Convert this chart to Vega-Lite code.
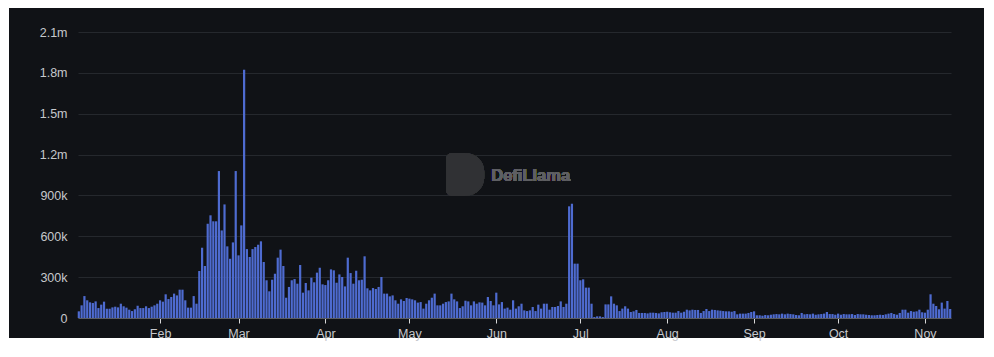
{
  "$schema": "https://vega.github.io/schema/vega-lite/v6.json",
  "width": 975,
  "height": 330,
  "autosize": {"type": "none"},
  "padding": {"left": 9, "top": 8, "right": 10, "bottom": 19},
  "background": "#ffffff",
  "config": {
    "view": {"fill": "#101216", "stroke": null},
    "axis": {"labelFont": "Liberation Sans", "labelFontSize": 12.5, "labelColor": "#c6c8cc", "title": null}
  },
  "data": {"values": [
    {"date":"2023-01-03","value":49000},{"date":"2023-01-04","value":93000},{"date":"2023-01-05","value":161000},{"date":"2023-01-06","value":130000},{"date":"2023-01-07","value":115000},{"date":"2023-01-08","value":110000},{"date":"2023-01-09","value":122000},{"date":"2023-01-10","value":73000},{"date":"2023-01-11","value":98000},{"date":"2023-01-12","value":120000},{"date":"2023-01-13","value":68000},{"date":"2023-01-14","value":68000},{"date":"2023-01-15","value":78000},{"date":"2023-01-16","value":83000},{"date":"2023-01-17","value":78000},{"date":"2023-01-18","value":105000},{"date":"2023-01-19","value":86000},{"date":"2023-01-20","value":76000},{"date":"2023-01-21","value":61000},{"date":"2023-01-22","value":51000},{"date":"2023-01-23","value":64000},{"date":"2023-01-24","value":90000},{"date":"2023-01-25","value":73000},{"date":"2023-01-26","value":73000},{"date":"2023-01-27","value":86000},{"date":"2023-01-28","value":73000},{"date":"2023-01-29","value":83000},{"date":"2023-01-30","value":93000},{"date":"2023-01-31","value":105000},
    {"date":"2023-02-01","value":130000},{"date":"2023-02-02","value":120000},{"date":"2023-02-03","value":174000},{"date":"2023-02-04","value":139000},{"date":"2023-02-05","value":154000},{"date":"2023-02-06","value":179000},{"date":"2023-02-07","value":166000},{"date":"2023-02-08","value":208000},{"date":"2023-02-09","value":208000},{"date":"2023-02-10","value":130000},{"date":"2023-02-11","value":76000},{"date":"2023-02-12","value":76000},{"date":"2023-02-13","value":161000},{"date":"2023-02-14","value":105000},{"date":"2023-02-15","value":345000},{"date":"2023-02-16","value":516000},{"date":"2023-02-17","value":382000},{"date":"2023-02-18","value":692000},{"date":"2023-02-19","value":754000},{"date":"2023-02-20","value":710000},{"date":"2023-02-21","value":710000},{"date":"2023-02-22","value":1079000},{"date":"2023-02-23","value":643000},{"date":"2023-02-24","value":834000},{"date":"2023-02-25","value":526000},{"date":"2023-02-26","value":435000},{"date":"2023-02-27","value":555000},{"date":"2023-02-28","value":1079000},
    {"date":"2023-03-01","value":460000},{"date":"2023-03-02","value":680000},{"date":"2023-03-03","value":1823000},{"date":"2023-03-04","value":506000},{"date":"2023-03-05","value":448000},{"date":"2023-03-06","value":506000},{"date":"2023-03-07","value":521000},{"date":"2023-03-08","value":538000},{"date":"2023-03-09","value":563000},{"date":"2023-03-10","value":411000},{"date":"2023-03-11","value":277000},{"date":"2023-03-12","value":196000},{"date":"2023-03-13","value":281000},{"date":"2023-03-14","value":325000},{"date":"2023-03-15","value":443000},{"date":"2023-03-16","value":502000},{"date":"2023-03-17","value":382000},{"date":"2023-03-18","value":149000},{"date":"2023-03-19","value":228000},{"date":"2023-03-20","value":277000},{"date":"2023-03-21","value":286000},{"date":"2023-03-22","value":252000},{"date":"2023-03-23","value":389000},{"date":"2023-03-24","value":186000},{"date":"2023-03-25","value":257000},{"date":"2023-03-26","value":203000},{"date":"2023-03-27","value":296000},{"date":"2023-03-28","value":262000},{"date":"2023-03-29","value":333000},{"date":"2023-03-30","value":369000},{"date":"2023-03-31","value":247000},
    {"date":"2023-04-01","value":242000},{"date":"2023-04-02","value":277000},{"date":"2023-04-03","value":357000},{"date":"2023-04-04","value":350000},{"date":"2023-04-05","value":259000},{"date":"2023-04-06","value":320000},{"date":"2023-04-07","value":301000},{"date":"2023-04-08","value":232000},{"date":"2023-04-09","value":443000},{"date":"2023-04-10","value":330000},{"date":"2023-04-11","value":252000},{"date":"2023-04-12","value":347000},{"date":"2023-04-13","value":277000},{"date":"2023-04-14","value":281000},{"date":"2023-04-15","value":453000},{"date":"2023-04-16","value":218000},{"date":"2023-04-17","value":203000},{"date":"2023-04-18","value":220000},{"date":"2023-04-19","value":213000},{"date":"2023-04-20","value":228000},{"date":"2023-04-21","value":301000},{"date":"2023-04-22","value":179000},{"date":"2023-04-23","value":179000},{"date":"2023-04-24","value":159000},{"date":"2023-04-25","value":166000},{"date":"2023-04-26","value":130000},{"date":"2023-04-27","value":105000},{"date":"2023-04-28","value":137000},{"date":"2023-04-29","value":125000},{"date":"2023-04-30","value":147000},
    {"date":"2023-05-01","value":142000},{"date":"2023-05-02","value":137000},{"date":"2023-05-03","value":130000},{"date":"2023-05-04","value":113000},{"date":"2023-05-05","value":117000},{"date":"2023-05-06","value":69000},{"date":"2023-05-07","value":105000},{"date":"2023-05-08","value":130000},{"date":"2023-05-09","value":149000},{"date":"2023-05-10","value":179000},{"date":"2023-05-11","value":93000},{"date":"2023-05-12","value":93000},{"date":"2023-05-13","value":105000},{"date":"2023-05-14","value":117000},{"date":"2023-05-15","value":122000},{"date":"2023-05-16","value":179000},{"date":"2023-05-17","value":137000},{"date":"2023-05-18","value":122000},{"date":"2023-05-19","value":73000},{"date":"2023-05-20","value":86000},{"date":"2023-05-21","value":127000},{"date":"2023-05-22","value":122000},{"date":"2023-05-23","value":93000},{"date":"2023-05-24","value":122000},{"date":"2023-05-25","value":105000},{"date":"2023-05-26","value":115000},{"date":"2023-05-27","value":113000},{"date":"2023-05-28","value":93000},{"date":"2023-05-29","value":154000},{"date":"2023-05-30","value":125000},{"date":"2023-05-31","value":93000},
    {"date":"2023-06-01","value":186000},{"date":"2023-06-02","value":100000},{"date":"2023-06-03","value":117000},{"date":"2023-06-04","value":69000},{"date":"2023-06-05","value":76000},{"date":"2023-06-06","value":61000},{"date":"2023-06-07","value":130000},{"date":"2023-06-08","value":69000},{"date":"2023-06-09","value":86000},{"date":"2023-06-10","value":105000},{"date":"2023-06-11","value":56000},{"date":"2023-06-12","value":51000},{"date":"2023-06-13","value":56000},{"date":"2023-06-14","value":81000},{"date":"2023-06-15","value":51000},{"date":"2023-06-16","value":98000},{"date":"2023-06-17","value":69000},{"date":"2023-06-18","value":105000},{"date":"2023-06-19","value":105000},{"date":"2023-06-20","value":61000},{"date":"2023-06-21","value":81000},{"date":"2023-06-22","value":81000},{"date":"2023-06-23","value":88000},{"date":"2023-06-24","value":122000},{"date":"2023-06-25","value":81000},{"date":"2023-06-26","value":105000},{"date":"2023-06-27","value":820000},{"date":"2023-06-28","value":839000},{"date":"2023-06-29","value":399000},{"date":"2023-06-30","value":399000},
    {"date":"2023-07-01","value":277000},{"date":"2023-07-02","value":284000},{"date":"2023-07-03","value":223000},{"date":"2023-07-04","value":223000},{"date":"2023-07-05","value":105000},{"date":"2023-07-06","value":7000},{"date":"2023-07-07","value":12000},{"date":"2023-07-08","value":12000},{"date":"2023-07-09","value":7000},{"date":"2023-07-10","value":100000},{"date":"2023-07-11","value":100000},{"date":"2023-07-12","value":159000},{"date":"2023-07-13","value":105000},{"date":"2023-07-14","value":93000},{"date":"2023-07-15","value":51000},{"date":"2023-07-16","value":69000},{"date":"2023-07-17","value":86000},{"date":"2023-07-18","value":69000},{"date":"2023-07-19","value":44000},{"date":"2023-07-20","value":49000},{"date":"2023-07-21","value":59000},{"date":"2023-07-22","value":37000},{"date":"2023-07-23","value":37000},{"date":"2023-07-24","value":37000},{"date":"2023-07-25","value":34000},{"date":"2023-07-26","value":39000},{"date":"2023-07-27","value":39000},{"date":"2023-07-28","value":37000},{"date":"2023-07-29","value":34000},{"date":"2023-07-30","value":42000},{"date":"2023-07-31","value":44000},
    {"date":"2023-08-01","value":46000},{"date":"2023-08-02","value":42000},{"date":"2023-08-03","value":39000},{"date":"2023-08-04","value":39000},{"date":"2023-08-05","value":51000},{"date":"2023-08-06","value":39000},{"date":"2023-08-07","value":46000},{"date":"2023-08-08","value":61000},{"date":"2023-08-09","value":56000},{"date":"2023-08-10","value":61000},{"date":"2023-08-11","value":59000},{"date":"2023-08-12","value":59000},{"date":"2023-08-13","value":37000},{"date":"2023-08-14","value":51000},{"date":"2023-08-15","value":66000},{"date":"2023-08-16","value":51000},{"date":"2023-08-17","value":61000},{"date":"2023-08-18","value":59000},{"date":"2023-08-19","value":56000},{"date":"2023-08-20","value":54000},{"date":"2023-08-21","value":51000},{"date":"2023-08-22","value":49000},{"date":"2023-08-23","value":49000},{"date":"2023-08-24","value":46000},{"date":"2023-08-25","value":51000},{"date":"2023-08-26","value":27000},{"date":"2023-08-27","value":32000},{"date":"2023-08-28","value":32000},{"date":"2023-08-29","value":32000},{"date":"2023-08-30","value":37000},{"date":"2023-08-31","value":44000},
    {"date":"2023-09-01","value":49000},{"date":"2023-09-02","value":20000},{"date":"2023-09-03","value":20000},{"date":"2023-09-04","value":17000},{"date":"2023-09-05","value":22000},{"date":"2023-09-06","value":20000},{"date":"2023-09-07","value":24000},{"date":"2023-09-08","value":27000},{"date":"2023-09-09","value":29000},{"date":"2023-09-10","value":27000},{"date":"2023-09-11","value":32000},{"date":"2023-09-12","value":27000},{"date":"2023-09-13","value":32000},{"date":"2023-09-14","value":29000},{"date":"2023-09-15","value":27000},{"date":"2023-09-16","value":22000},{"date":"2023-09-17","value":20000},{"date":"2023-09-18","value":37000},{"date":"2023-09-19","value":27000},{"date":"2023-09-20","value":29000},{"date":"2023-09-21","value":27000},{"date":"2023-09-22","value":32000},{"date":"2023-09-23","value":24000},{"date":"2023-09-24","value":27000},{"date":"2023-09-25","value":29000},{"date":"2023-09-26","value":32000},{"date":"2023-09-27","value":44000},{"date":"2023-09-28","value":29000},{"date":"2023-09-29","value":29000},{"date":"2023-09-30","value":24000},
    {"date":"2023-10-01","value":32000},{"date":"2023-10-02","value":24000},{"date":"2023-10-03","value":29000},{"date":"2023-10-04","value":27000},{"date":"2023-10-05","value":27000},{"date":"2023-10-06","value":29000},{"date":"2023-10-07","value":22000},{"date":"2023-10-08","value":29000},{"date":"2023-10-09","value":27000},{"date":"2023-10-10","value":27000},{"date":"2023-10-11","value":24000},{"date":"2023-10-12","value":22000},{"date":"2023-10-13","value":20000},{"date":"2023-10-14","value":20000},{"date":"2023-10-15","value":22000},{"date":"2023-10-16","value":24000},{"date":"2023-10-17","value":22000},{"date":"2023-10-18","value":27000},{"date":"2023-10-19","value":32000},{"date":"2023-10-20","value":37000},{"date":"2023-10-21","value":29000},{"date":"2023-10-22","value":24000},{"date":"2023-10-23","value":37000},{"date":"2023-10-24","value":61000},{"date":"2023-10-25","value":61000},{"date":"2023-10-26","value":39000},{"date":"2023-10-27","value":51000},{"date":"2023-10-28","value":46000},{"date":"2023-10-29","value":49000},{"date":"2023-10-30","value":61000},{"date":"2023-10-31","value":42000},
    {"date":"2023-11-01","value":39000},{"date":"2023-11-02","value":61000},{"date":"2023-11-03","value":174000},{"date":"2023-11-04","value":105000},{"date":"2023-11-05","value":88000},{"date":"2023-11-06","value":64000},{"date":"2023-11-07","value":113000},{"date":"2023-11-08","value":69000},{"date":"2023-11-09","value":125000},{"date":"2023-11-10","value":66000}
  ]},
  "layer": [
    {
      "mark": {"type": "rect", "color": "#303134", "cornerRadiusTopLeft": 6, "cornerRadiusBottomLeft": 6, "cornerRadiusTopRight": 19, "cornerRadiusBottomRight": 19},
      "encoding": {
        "x": {"datum": {"year": 2023, "month": 5, "date": 14, "hours": 2, "utc": true}, "type": "temporal"},
        "x2": {"datum": {"year": 2023, "month": 5, "date": 27, "hours": 17, "utc": true}},
        "y": {"datum": 1211000, "type": "quantitative"},
        "y2": {"datum": 896000}
      }
    },
    {
      "mark": {"type": "text", "text": "DefiLlama", "align": "left", "baseline": "middle", "font": "Liberation Sans", "fontSize": 16.5, "fontWeight": "bold", "color": "#5e5f63"},
      "encoding": {
        "x": {"datum": {"year": 2023, "month": 5, "date": 30, "hours": 5, "utc": true}, "type": "temporal"},
        "y": {"datum": 1043000, "type": "quantitative"}
      }
    },
    {
      "mark": {"type": "bar", "color": "#4e6bd0", "width": 2.2},
      "encoding": {
        "x": {
          "field": "date", "type": "temporal",
          "scale": {"type": "utc", "domain": [{"year": 2023, "month": 1, "date": 2, "hours": 17, "utc": true}, {"year": 2023, "month": 11, "date": 10, "hours": 7, "utc": true}], "range": [69, 942], "padding": 0},
          "axis": {"orient": "bottom", "offset": -20, "format": "%b", "tickCount": {"interval": "month", "step": 1}, "grid": false, "domainColor": "#5a5d63", "tickColor": "#d8d8d8", "tickSize": 5, "labelPadding": 4, "labelFlush": false}
        },
        "y": {
          "field": "value", "type": "quantitative",
          "scale": {"domain": [0, 2100000], "range": [310, 24], "nice": false},
          "axis": {"orient": "left", "offset": -69, "values": [0, 300000, 600000, 900000, 1200000, 1500000, 1800000, 2100000], "labelExpr": "datum.value == 0 ? '0' : datum.value >= 1000000 ? format(datum.value / 1000000, '.1f') + 'm' : format(datum.value / 1000, 'd') + 'k'", "domain": false, "ticks": false, "labelPadding": 11, "grid": true, "gridColor": "#25282d", "gridWidth": 1}
        }
      }
    }
  ]
}
